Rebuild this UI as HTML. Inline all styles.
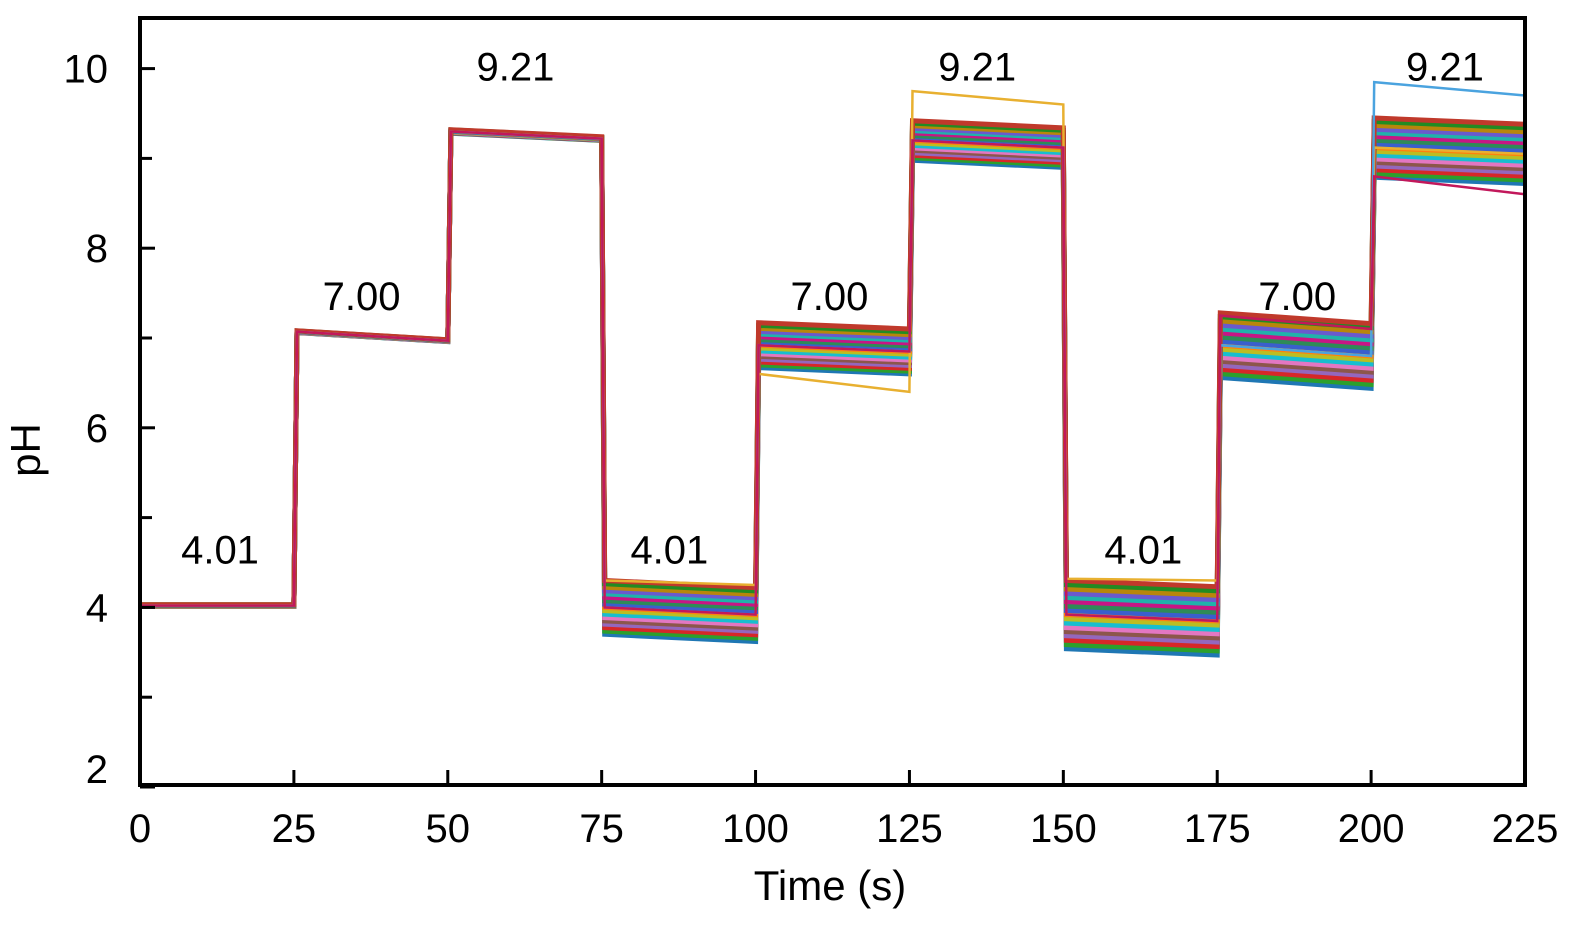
<!DOCTYPE html>
<html><head><meta charset="utf-8"><style>
body{margin:0;background:#fff;}
svg{display:block;font-family:"Liberation Sans",sans-serif;}
</style></head><body>
<svg id="chart" width="1575" height="932">
<g id="traces"></g>
<rect x="140" y="18" width="1385" height="767" fill="none" stroke="#000" stroke-width="4"/>
<g id="axes"></g>
<text x="40" y="450" font-size="42" text-anchor="middle" transform="rotate(-90 40 450)">pH</text>
<text x="830" y="900" font-size="42" text-anchor="middle">Time (s)</text>
</svg>
<script>
const xTicks=[0,25,50,75,100,125,150,175,200,225];
const yTicks=[2,4,6,8,10];
const yMinor=[3,5,7,9];
const segStart=[0,25.5,50.5,75.5,100.5,125.5,150.5,175.5,200.5];
const segEnd=[25,50,75,100,125,150,175,200,225];
const centerStart=[4.02,7.07,9.3,4.0,6.92,9.2,3.92,6.92,9.12];
const centerEnd=[4.02,6.97,9.22,3.92,6.85,9.12,3.85,6.8,9.05];
const halfWidth=[0.01,0.01,0.02,0.3,0.25,0.22,0.38,0.36,0.33];
const fractions=[-1,-0.88,-0.75,-0.62,-0.5,-0.38,-0.25,-0.12,0,0.12,0.25,0.38,0.5,0.62,0.75,0.88,1];
const traceColors=["#1f77b4","#2ca02c","#d62728","#9467bd","#8c564b","#e377c2","#17becf","#bcbd22","#ff7f0e","#3a5fcd","#2e8b57","#c71585","#20b2aa","#6a5acd","#b8860b","#228b22","#c0392b"];
const yellowStart=[4.02,7.07,9.3,4.3,6.6,9.75,4.32,6.92,9.12];
const yellowEnd=[4.02,6.97,9.22,4.25,6.4,9.6,4.3,6.8,9.05];
const blueStart=[4.02,7.07,9.3,4.0,6.92,9.2,3.92,6.92,9.85];
const blueEnd=[4.02,6.97,9.22,3.92,6.85,9.12,3.85,6.8,9.7];
const magStart=[4.02,7.07,9.3,4.0,6.92,9.2,3.92,7.25,8.8];
const magEnd=[4.02,6.97,9.22,3.92,6.85,9.12,3.85,7.1,8.6];
const labels=[["4.01",13,4.49],["7.00",36,7.31],["9.21",61,9.87],["4.01",86,4.49],["7.00",112,7.31],["9.21",136,9.87],["4.01",163,4.49],["7.00",188,7.31],["9.21",212,9.87]];
const X=t=>140+t/225*1385;
const Y=p=>787-(p-2)*89.8;
const NS="http://www.w3.org/2000/svg";
const tr=document.getElementById('traces'),ax=document.getElementById('axes'),svg=document.getElementById('chart');
function pathFrom(s,e){let d="";for(let i=0;i<9;i++){d+=(i?"L":"M")+X(segStart[i]).toFixed(1)+","+Y(s[i]).toFixed(1)+"L"+X(segEnd[i]).toFixed(1)+","+Y(e[i]).toFixed(1);}return d;}
function addPath(d,c,w,name){const p=document.createElementNS(NS,"path");p.setAttribute("d",d);p.setAttribute("fill","none");p.setAttribute("stroke",c);p.setAttribute("stroke-width",w);


tr.appendChild(p);}
fractions.forEach((f,k)=>{const s=centerStart.map((c,i)=>c+f*halfWidth[i]);const e=centerEnd.map((c,i)=>c+f*halfWidth[i]);addPath(pathFrom(s,e),traceColors[k],5,"sensor-trace");});
addPath(pathFrom(yellowStart,yellowEnd),"#e8b030",2.5,"outlier-trace-yellow");
addPath(pathFrom(blueStart,blueEnd),"#4aa3df",2.5,"outlier-trace-blue");
addPath(pathFrom(magStart,magEnd),"#c2185b",2.5,"outlier-trace-magenta");
function line(x1,y1,x2,y2,name){const l=document.createElementNS(NS,"line");l.setAttribute("x1",x1);l.setAttribute("y1",y1);l.setAttribute("x2",x2);l.setAttribute("y2",y2);l.setAttribute("stroke","#000");l.setAttribute("stroke-width",3);


ax.appendChild(l);}
function text(x,y,s,anchor,name,parent){const t=document.createElementNS(NS,"text");t.setAttribute("x",x);t.setAttribute("y",y);t.setAttribute("font-size",40);t.setAttribute("text-anchor",anchor);t.textContent=s;


(parent||ax).appendChild(t);}
xTicks.forEach(t=>{line(X(t),785,X(t),770,"x-tick");text(X(t),842,String(t),"middle","x-tick-label");});
yTicks.forEach(p=>{line(140,Y(p),155,Y(p),"y-tick");text(108,Math.min(Y(p)+14,783),String(p),"end","y-tick-label");});
yMinor.forEach(p=>{line(140,Y(p),152,Y(p),"y-minor-tick");});
labels.forEach(l=>{text(X(l[1]),Y(l[2]),l[0],"middle","step-ph-label",svg);});
</script>
</body></html>
